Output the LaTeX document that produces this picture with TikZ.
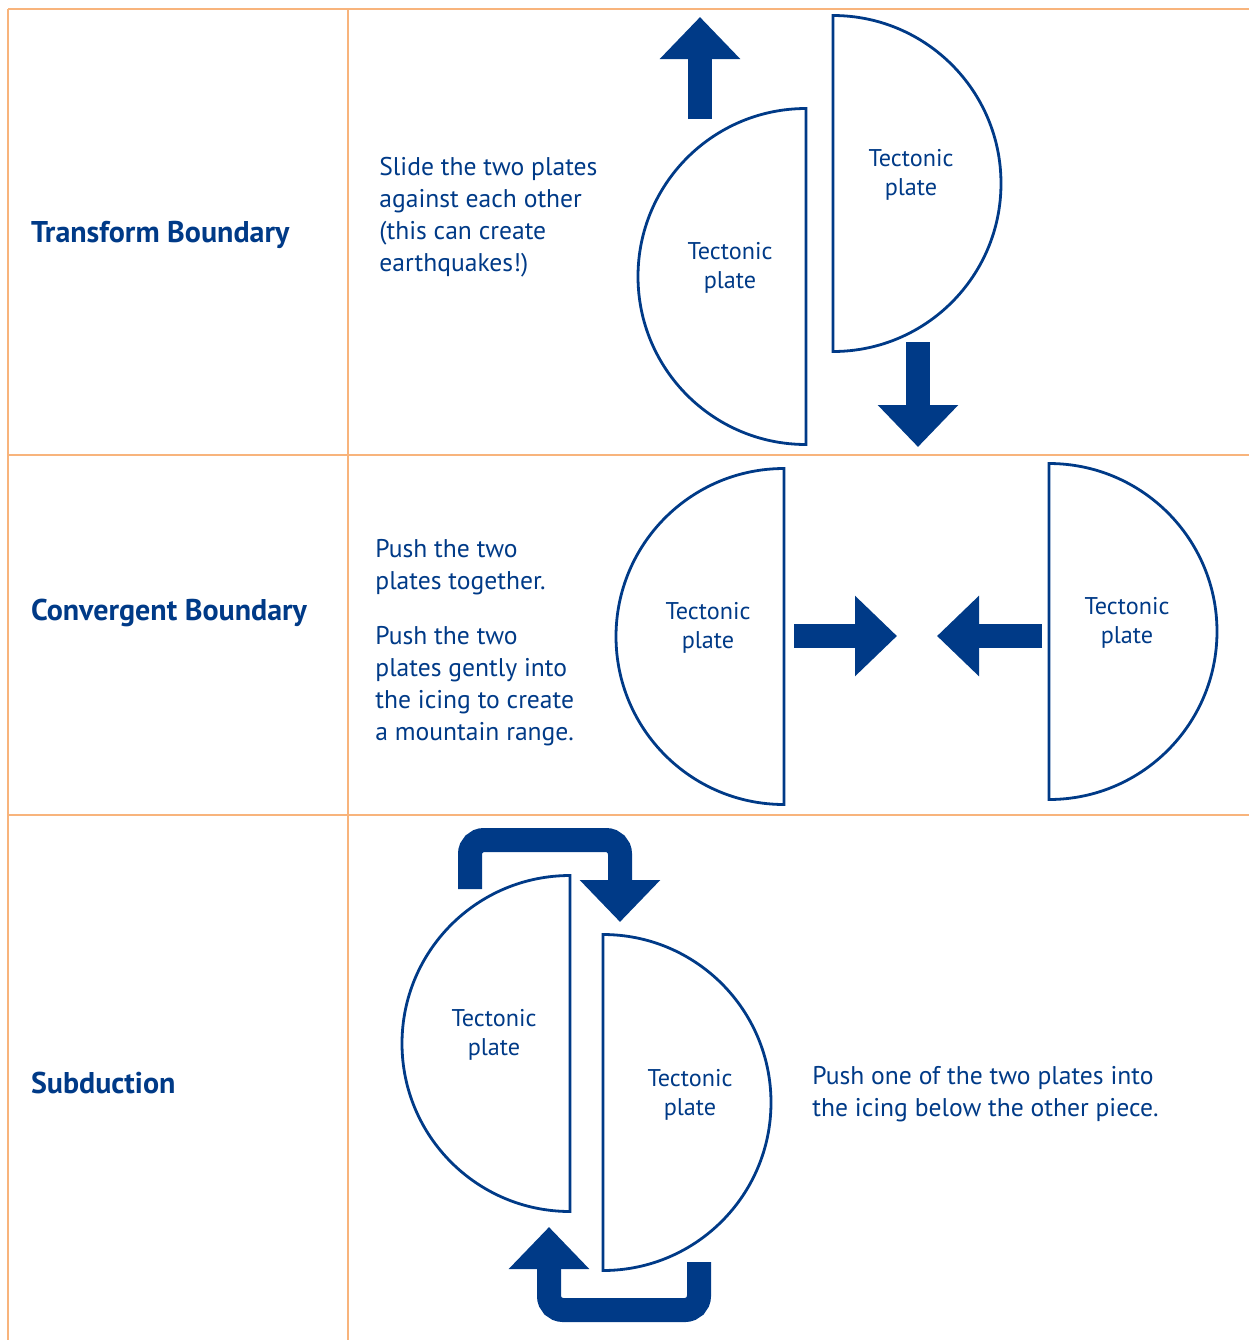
\documentclass[tikz,border=0pt]{standalone}
\usepackage{fontspec}
\setmainfont{PT Sans}
\usetikzlibrary{arrows.meta}
\definecolor{plateblue}{HTML}{003A87}
\definecolor{gridorange}{HTML}{F8B47C}

\begin{document}
\begin{tikzpicture}[x=0.5pt,y=-0.5pt,
    grid/.style={draw=gridorange, line width=1pt},
    plate/.style={draw=plateblue, line width=1.4pt},
    bigarrow/.style={draw=plateblue, line width=12pt, -{Triangle[width=39pt,length=21pt]}},
    heading/.style={anchor=west, text=plateblue, font=\bfseries\fontsize{15}{18}\selectfont},
    desc/.style={anchor=west, align=left, text=plateblue, inner sep=0pt, font=\fontsize{12.8}{16}\selectfont},
    platelabel/.style={align=center, text=plateblue, font=\fontsize{12.1}{14.5}\selectfont}]
        \useasboundingbox (0,0) rectangle (1249,1340);
        % Table
        \draw[grid] (8,9) -- (1249,9);
        \draw[grid] (8,455) -- (1249,455);
        \draw[grid] (8,815) -- (1249,815);
        \draw[grid] (8,9) -- (8,1340);
        \draw[grid] (348,9) -- (348,1340);
        % Row headings
        \node[heading] (transform)  at (24,235)  {Transform Boundary};
        \node[heading] (convergent) at (24,613)  {Convergent Boundary};
        \node[heading] (subduction) at (24,1083) {Subduction};
        % Descriptions
        \node[desc] (slide) at (379,217) {Slide the two plates\\against each other\\(this can create\\earthquakes!)};
        \node[desc] (push)  at (375,567) {Push the two\\plates together.};
        \node[desc] (gently) at (375,686) {Push the two\\plates gently into\\the icing to create\\a mountain range.};
        \node[desc] (below) at (812,1094) {Push one of the two plates into\\the icing below the other piece.};
        % Plates
        \draw[plate] (806,108.5) arc[start angle=270, end angle=90, radius=168] -- cycle;
        \draw[plate] (833,15.5) arc[start angle=270, end angle=450, radius=168] -- cycle;
        \draw[plate] (784,468.5) arc[start angle=270, end angle=90, radius=168] -- cycle;
        \draw[plate] (1049,463.5) arc[start angle=270, end angle=450, radius=168] -- cycle;
        \draw[plate] (570,875.5) arc[start angle=270, end angle=90, radius=168] -- cycle;
        \draw[plate] (603,934.5) arc[start angle=270, end angle=450, radius=168] -- cycle;
        \node[platelabel] (plateA) at (730,268)  {Tectonic\\plate};
        \node[platelabel] (plateB) at (911,175)  {Tectonic\\plate};
        \node[platelabel] (plateC) at (708,628)  {Tectonic\\plate};
        \node[platelabel] (plateD) at (1127,623) {Tectonic\\plate};
        \node[platelabel] (plateE) at (494,1035) {Tectonic\\plate};
        \node[platelabel] (plateF) at (690,1095) {Tectonic\\plate};
        % Arrows
        \coordinate (upS) at (700,119);   \coordinate (upE) at (700,17);
        \coordinate (downS) at (918,342); \coordinate (downE) at (918,447);
        \coordinate (rightS) at (794,636); \coordinate (rightE) at (897,636);
        \coordinate (leftS) at (1042,636); \coordinate (leftE) at (937,636);
        \draw[bigarrow] (upS) -- (upE);
        \draw[bigarrow] (downS) -- (downE);
        \draw[bigarrow] (rightS) -- (rightE);
        \draw[bigarrow] (leftS) -- (leftE);
        \coordinate (topS) at (470,889);  \coordinate (topE) at (620,922);
        \coordinate (botS) at (699,1262); \coordinate (botE) at (549,1227);
        \draw[bigarrow, rounded corners=7pt] (topS) -- (470,840) -- (620,840) -- (topE);
        \draw[bigarrow, rounded corners=7pt] (botS) -- (699,1310) -- (549,1310) -- (botE);
\end{tikzpicture}
\end{document}
